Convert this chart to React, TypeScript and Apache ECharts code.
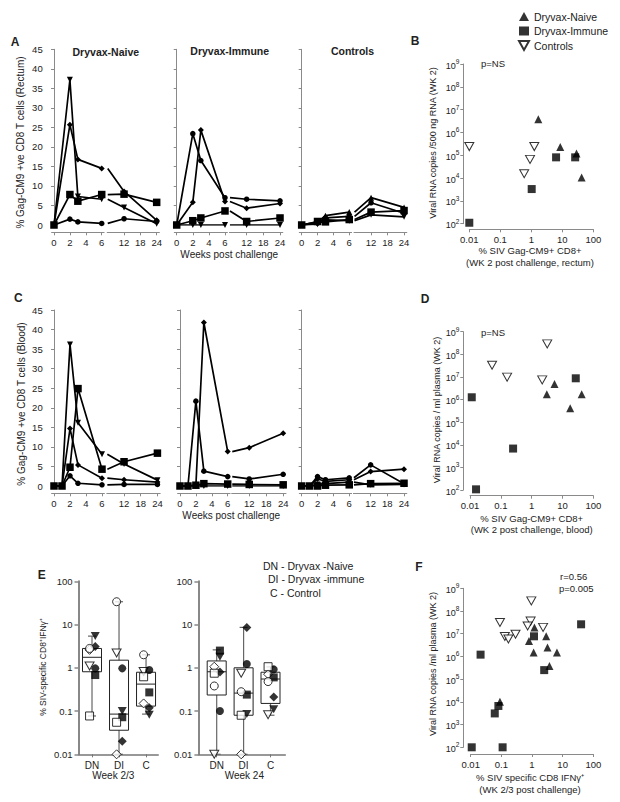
import React, { useEffect, useRef } from "react";
import * as echarts from "echarts";

const FONT = '"Liberation Sans", Arial, Helvetica, sans-serif';
const DOWN = "path://M0,0L10,0L5,9Z";
const TXT = "#222";
const AX = "#8a8a8a";

// ---------- Panels A & C : weeks post challenge ----------
const weeksRectum = [0, 2, 3, 6, 12, 24];
const weeksBlood = [0, 1, 2, 3, 6, 12, 24];

// A — rectum
const rectNaiveDown = [0, 37.2, 7.3, 6.6, 4.5, 0.3];
const rectNaiveDiamond = [0, 25.7, 16.8, 14.5, 8.6, 1.2];
const rectNaiveSquare = [0, 7.8, 6.1, 7.8, 7.9, 5.8];
const rectNaiveCircle = [0, 1.5, 0.8, 0.4, 1.6, 0.9];
const rectImmCircle = [0, 23.4, 16.5, 7.0, 6.6, 6.2];
const rectImmDiamond = [0, 5.8, 24.3, 6.0, 4.3, 5.5];
const rectImmSquare = [0, 1.1, 1.8, 3.6, 0.9, 1.8];
const rectImmDown = [0, 0, 0, 0, 0, 0];
const rectCtrlUp = [0, 0.8, 2.4, 3.3, 7.0, 4.5];
const rectCtrlCircle = [0, 0.5, 1.8, 2.2, 5.7, 3.0];
const rectCtrlSquare = [0, 0.9, 0.8, 1.4, 3.3, 3.7];
const rectCtrlDown = [0, 0.2, 1.3, 1.1, 2.6, 2.1];

// C — blood
const bloodNaiveDown = [0, 0, 36.2, 16.2, 8.1, 5.6, 1.5];
const bloodNaiveSquare = [0, 0, 4.8, 24.9, 4.3, 6.2, 8.4];
const bloodNaiveDiamond = [0, 0, 14.7, 5.4, 2.0, 1.6, 1.0];
const bloodNaiveCircle = [0, 0, 2.6, 0.7, 0.3, 0.4, 0.4];
const bloodImmDiamond = [0, 0, 0.2, 41.8, 8.8, 9.8, 13.5];
const bloodImmCircle = [0, 0, 21.7, 3.8, 2.4, 1.8, 3.0];
const bloodImmSquare = [0, 0, 0.2, 0.6, 0.5, 0.4, 0.3];
const bloodImmDown = [0, 0, 0, 0, 0, 0, 0];
const bloodCtrlDiamond = [0, 0, 1.8, 1.2, 1.6, 3.7, 4.3];
const bloodCtrlCircle = [0, 0, 2.4, 1.6, 2.1, 5.4, 0.6];
const bloodCtrlSquare = [0, 0, 0, 0.2, 0.3, 0.6, 0.7];
const bloodCtrlDown = [0, 0, 0.4, 0.6, 1.0, 0.3, 0.4];

// ---------- B, D, F scatter [x %, viral RNA] ----------
const bNaive = [[1.68, 3.8e6], [8.6, 2.3e5], [28.7, 1.2e5], [42, 1.05e4]];
const bImmune = [[0.01, 110], [1.03, 3.3e3], [6.3, 8.1e4], [26, 8.1e4]];
const bControls = [[0.01, 2.4e5], [1.25, 2.4e5], [0.91, 6.6e4], [0.59, 1.55e4]];

const dNaive = [[5.5, 4.9e6], [3.1, 1.7e6], [42, 1.7e6], [17.8, 4.1e5]];
const dImmune = [[0.0114, 1.26e6], [27, 8.7e6], [0.25, 6.8e3], [0.0157, 107]];
const dControls = [[3.2, 2.9e8], [0.052, 3.3e7], [0.16, 9.8e6], [2.2, 7.4e6]];

const fNaive = [[1.2, 1.9e7], [2.9, 7.7e6], [0.8, 4.8e6], [3.2, 2.5e6], [6.5, 1.5e6], [1.13, 1.5e6], [3.7, 3.8e5], [0.09, 1.0e4]];
const fImmune = [[40, 2.6e7], [1.16, 7.7e6], [0.021, 1.2e6], [2.5, 2.5e5], [0.08, 6.6e3], [0.061, 3.1e3], [0.0108, 100], [0.11, 100]];
const fControls = [[0.95, 2.8e8], [0.09, 3.1e7], [0.9, 3.6e7], [0.72, 2.2e7], [2.3, 1.9e7], [0.29, 9.5e6], [0.13, 7.5e6], [0.17, 5.9e6]];

// ---------- E box plots: [min, q1, median, q3, max] for DN, DI, C ----------
const eGroups = ["DN", "DI", "C"];
const boxWk23 = [[0.077, 0.81, 1.75, 2.8, 5.4], [0.01, 0.036, 0.085, 1.5, 33.7], [0.085, 0.13, 0.42, 0.79, 2.0]];
const boxWk24 = [[0.01, 0.235, 0.81, 1.44, 2.6], [0.01, 0.08, 0.26, 1.0, 8.6], [0.08, 0.15, 0.55, 0.79, 1.05]];
// individual animals, values for [DN, DI, C]
const filledDown23 = [5.4, 0.1, 0.082];
const filledDia23 = [3.1, 0.02, 0.12];
const openDia23 = [2.6, 0.01, 0.15];
const openDown23 = [1.1, 2.2, 0.82];
const filledCir23 = [0.97, 0.97, 0.89];
const filledSq23 = [0.68, 0.072, 0.27];
const openCir23 = [2.8, 33.7, 2.0];
const openSq23 = [0.077, 0.055, 0.62];
const filledDown24 = [1.8, 0.085, 0.11];
const filledDia24 = [0.8, 8.6, 0.21];
const openDia24 = [1.06, 0.01, 0.71];
const openDown24 = [0.01, 0.75, 0.082];
const filledCir24 = [0.1, 1.22, 0.92];
const filledSq24 = [2.5, 0.24, 0.6];
const openCir24 = [0.38, 0.28, 0.48];
const openSq24 = [0.75, 0.08, 1.06];

type LS = { v: number[]; sym: string; size: number };

function buildOption() {
  const grids: any[] = [];
  const xAxes: any[] = [];
  const yAxes: any[] = [];
  const series: any[] = [];

  // ---- line panels (A, C) ----
  const lineGrids = [
    { l: 51.6, w: 52.5, t: 49.3, h: 175.7, seg: 1, labels: true, yOff: 3.9 },
    { l: 107.2, w: 52.2, t: 49.3, h: 175.7, seg: 2 },
    { l: 174.3, w: 53.1, t: 49.3, h: 175.7, seg: 1, labels: false, yOff: 5 },
    { l: 229.4, w: 53.4, t: 49.3, h: 175.7, seg: 2 },
    { l: 299.3, w: 52.3, t: 49.3, h: 175.7, seg: 1, labels: false, yOff: 5 },
    { l: 354, w: 52.8, t: 49.3, h: 175.7, seg: 2 },
    { l: 51.6, w: 52.8, t: 310, h: 176, seg: 1, labels: true, yOff: 3.9 },
    { l: 106.8, w: 53.4, t: 310, h: 176, seg: 2 },
    { l: 177.6, w: 52.5, t: 310, h: 176, seg: 1, labels: false, yOff: 4.9 },
    { l: 231.7, w: 54.3, t: 310, h: 176, seg: 2 },
    { l: 299.3, w: 52.3, t: 310, h: 176, seg: 1, labels: false, yOff: 5 },
    { l: 353.4, w: 53.4, t: 310, h: 176, seg: 2 },
  ];
  lineGrids.forEach((g, i) => {
    grids.push({ left: g.l, top: g.t, width: g.w, height: g.h, containLabel: false, outerBoundsMode: "none" });
    const ticks = g.seg === 1 ? [0, 2, 4, 6] : [12, 18, 24];
    xAxes.push({
      gridIndex: i, type: "value",
      min: g.seg === 1 ? -0.3 : 5.8, max: g.seg === 1 ? 6.3 : 25,
      offset: 7.3,
      splitLine: { show: false },
      axisLine: { show: true, onZero: false, lineStyle: { color: AX, width: 1 } },
      axisTick: { show: true, length: 3, customValues: ticks, lineStyle: { color: AX } },
      axisLabel: { customValues: ticks, fontSize: 9.5, color: TXT, fontFamily: FONT, margin: 5 },
    });
    yAxes.push({
      gridIndex: i, type: "value", min: 0, max: 45, interval: 5,
      show: g.seg === 1, offset: g.yOff || 0,
      splitLine: { show: false },
      axisLine: { show: true, lineStyle: { color: AX, width: 1 } },
      axisTick: { show: true, length: 3, lineStyle: { color: AX } },
      axisLabel: { show: !!g.labels, fontSize: 9.5, color: TXT, fontFamily: FONT, margin: 5 },
    });
  });

  const lineSeries = (weeks: number[], list: LS[], g1: number, g2: number) => {
    const i6 = weeks.indexOf(6);
    list.forEach((s) => {
      const d1 = weeks.slice(0, i6 + 1).map((w, i) => [w, s.v[i]]);
      const d2 = weeks.slice(i6).map((w, i) =>
        i === 0 ? { value: [w, s.v[i6 + i]], symbol: "none" } : [w, s.v[i6 + i]]
      );
      [[g1, d1], [g2, d2]].forEach(([g, d]: any) => {
        series.push({
          type: "line", xAxisIndex: g, yAxisIndex: g, data: d,
          symbol: s.sym, symbolSize: s.size, showAllSymbol: true,
          lineStyle: { color: "#000", width: 1.7 },
          itemStyle: { color: "#000" },
          z: 3,
        });
      });
    });
  };
  const sq = (v: number[]): LS => ({ v, sym: "rect", size: 7.5 });
  const ci = (v: number[]): LS => ({ v, sym: "circle", size: 5.5 });
  const dn = (v: number[]): LS => ({ v, sym: DOWN, size: 6 });
  const di = (v: number[]): LS => ({ v, sym: "diamond", size: 6 });
  const up = (v: number[]): LS => ({ v, sym: "triangle", size: 6 });

  lineSeries(weeksRectum, [dn(rectNaiveDown), di(rectNaiveDiamond), sq(rectNaiveSquare), ci(rectNaiveCircle)], 0, 1);
  lineSeries(weeksRectum, [ci(rectImmCircle), di(rectImmDiamond), sq(rectImmSquare), dn(rectImmDown)], 2, 3);
  lineSeries(weeksRectum, [up(rectCtrlUp), ci(rectCtrlCircle), sq(rectCtrlSquare), dn(rectCtrlDown)], 4, 5);
  lineSeries(weeksBlood, [dn(bloodNaiveDown), sq(bloodNaiveSquare), di(bloodNaiveDiamond), ci(bloodNaiveCircle)], 6, 7);
  lineSeries(weeksBlood, [di(bloodImmDiamond), ci(bloodImmCircle), sq(bloodImmSquare), dn(bloodImmDown)], 8, 9);
  lineSeries(weeksBlood, [di(bloodCtrlDiamond), ci(bloodCtrlCircle), sq(bloodCtrlSquare), dn(bloodCtrlDown)], 10, 11);

  // ---- log scatter panels (B, D, F) ----
  const exp = (v: number) => Math.round(Math.log10(v));
  const decLabel = (v: number) => {
    const e = exp(v);
    return e >= 0 ? String(Math.pow(10, e)) : (e === -1 ? "0.1" : "0.01");
  };
  const scatterGrids = [
    { l: 469.3, t: 64, w: 124, h: 159.7, yOff: 6, xOff: 5.6, data: [bNaive, bImmune, bControls] },
    { l: 470, t: 331.7, w: 123.3, h: 158.3, yOff: 6.7, xOff: 5.7, data: [dNaive, dImmune, dControls] },
    { l: 470.7, t: 588.3, w: 122.6, h: 159, yOff: 7.4, xOff: 6.7, data: [fNaive, fImmune, fControls] },
  ];
  scatterGrids.forEach((g) => {
    const gi = grids.length;
    grids.push({ left: g.l, top: g.t, width: g.w, height: g.h, containLabel: false, outerBoundsMode: "none" });
    xAxes.push({
      gridIndex: gi, type: "log", logBase: 10, min: 0.01, max: 100, offset: g.xOff,
      splitLine: { show: false },
      axisLine: { show: true, onZero: false, lineStyle: { color: AX } },
      axisTick: { show: true, length: 3, lineStyle: { color: AX } },
      axisLabel: { fontSize: 9.5, color: TXT, fontFamily: FONT, margin: 5, formatter: decLabel },
    });
    yAxes.push({
      gridIndex: gi, type: "log", logBase: 10, min: 100, max: 1e9, offset: g.yOff,
      splitLine: { show: false },
      axisLine: { show: true, onZero: false, lineStyle: { color: AX } },
      axisTick: { show: true, length: 3, lineStyle: { color: AX } },
      axisLabel: {
        margin: 4,
        formatter: (v: number) => `{b|10}{s|${exp(v)}}`,
        rich: {
          b: { fontSize: 9, fontFamily: FONT, color: TXT, lineHeight: 12, verticalAlign: "bottom" },
          s: { fontSize: 6.5, fontFamily: FONT, color: TXT, lineHeight: 12, verticalAlign: "top" },
        },
      },
    });
    const [naive, immune, ctrl] = g.data;
    series.push(
      { type: "scatter", name: "Dryvax-Naive", xAxisIndex: gi, yAxisIndex: gi, data: naive, symbol: "triangle", symbolSize: 8, itemStyle: { color: "#000" } },
      { type: "scatter", name: "Dryvax-Immune", xAxisIndex: gi, yAxisIndex: gi, data: immune, symbol: "rect", symbolSize: 8, itemStyle: { color: "#000" } },
      { type: "scatter", name: "Controls", xAxisIndex: gi, yAxisIndex: gi, data: ctrl, symbol: DOWN, symbolSize: [9, 8], itemStyle: { color: "#fff", borderColor: "#000", borderWidth: 1 } },
    );
  });

  // ---- E box plots ----
  const eGrids = [
    { l: 78.5, w: 79.7, min: 0.5, max: 3.45, boxes: boxWk23,
      pts: [filledDown23, filledDia23, openDia23, openDown23, filledCir23, filledSq23, openCir23, openSq23] },
    { l: 198.4, w: 86.9, min: 0.32, max: 3.55, boxes: boxWk24,
      pts: [filledDown24, filledDia24, openDia24, openDown24, filledCir24, filledSq24, openCir24, openSq24] },
  ];
  const ptStyles = [
    { sym: DOWN, size: [9, 8], open: false },
    { sym: "diamond", size: 9, open: false },
    { sym: "diamond", size: 9, open: true },
    { sym: DOWN, size: [9, 8], open: true },
    { sym: "circle", size: 8, open: false },
    { sym: "rect", size: 8, open: false },
    { sym: "circle", size: 8, open: true },
    { sym: "rect", size: 8, open: true },
  ];
  eGrids.forEach((g) => {
    const gi = grids.length;
    grids.push({ left: g.l, top: 581.3, width: g.w, height: 173, containLabel: false, outerBoundsMode: "none" });
    xAxes.push({
      gridIndex: gi, type: "value", min: g.min, max: g.max,
      splitLine: { show: false },
      axisLine: { show: true, onZero: false, lineStyle: { color: "#777", width: 1.6 } },
      axisTick: { show: true, length: 3, customValues: [1, 2, 3], lineStyle: { color: "#777" } },
      axisLabel: { customValues: [1, 2, 3], fontSize: 10, color: TXT, fontFamily: FONT, margin: 6,
        formatter: (v: number) => eGroups[Math.round(v) - 1] || "" },
    });
    yAxes.push({
      gridIndex: gi, type: "log", logBase: 10, min: 0.01, max: 100,
      splitLine: { show: false },
      axisLine: { show: true, onZero: false, lineStyle: { color: "#888", width: 2 } },
      axisTick: { show: true, length: 4, lineStyle: { color: "#888", width: 1.5 } },
      axisLabel: { fontSize: 9.5, color: TXT, fontFamily: FONT, margin: 6, formatter: decLabel },
    });
    series.push({
      type: "custom", xAxisIndex: gi, yAxisIndex: gi, z: 2,
      data: g.boxes.map((b, i) => [i + 1, ...b]),
      encode: { x: 0, y: [1, 2, 3, 4, 5] },
      renderItem: (params: any, api: any) => {
        const x = api.value(0);
        const pMin = api.coord([x, api.value(1)]);
        const pQ1 = api.coord([x, api.value(2)]);
        const pMed = api.coord([x, api.value(3)]);
        const pQ3 = api.coord([x, api.value(4)]);
        const pMax = api.coord([x, api.value(5)]);
        const cx = pMed[0];
        const hw = 9.5;
        const wStyle = { stroke: "#666", lineWidth: 1.2 };
        const bStyle = { stroke: "#222", lineWidth: 1, fill: "none" };
        return {
          type: "group",
          children: [
            { type: "line", shape: { x1: cx, y1: pMax[1], x2: cx, y2: pQ3[1] }, style: wStyle },
            { type: "line", shape: { x1: cx, y1: pQ1[1], x2: cx, y2: pMin[1] }, style: wStyle },
            { type: "line", shape: { x1: cx - 4, y1: pMax[1], x2: cx + 4, y2: pMax[1] }, style: wStyle },
            { type: "line", shape: { x1: cx - 4, y1: pMin[1], x2: cx + 4, y2: pMin[1] }, style: wStyle },
            { type: "rect", shape: { x: cx - hw, y: pQ3[1], width: hw * 2, height: pQ1[1] - pQ3[1] }, style: bStyle },
            { type: "line", shape: { x1: cx - hw, y1: pMed[1], x2: cx + hw, y2: pMed[1] }, style: { stroke: "#222", lineWidth: 1 } },
          ],
        };
      },
    });
    g.pts.forEach((vals, k) => {
      const st = ptStyles[k];
      const off = st.open ? -0.09 : 0.12;
      series.push({
        type: "scatter", xAxisIndex: gi, yAxisIndex: gi, z: 4,
        data: vals.map((v, i) => [i + 1 + off, v]),
        symbol: st.sym, symbolSize: st.size,
        itemStyle: st.open ? { color: "#fff", borderColor: "#000", borderWidth: 1 } : { color: "#000" },
      });
    });
  });

  // ---- texts ----
  const T = (text: string, x: number, y: number, o: any = {}) => ({
    type: "text", x, y, rotation: o.rot || 0, z: 10,
    style: {
      text, fontSize: o.size || 10, fontFamily: FONT, fontWeight: o.bold ? "bold" : "normal",
      fill: TXT, align: o.align || "center", verticalAlign: "middle",
    },
  });
  const R = Math.PI / 2;
  const elements = [
    T("A", 15, 41.5, { bold: true, size: 12 }),
    T("B", 415, 41, { bold: true, size: 12 }),
    T("C", 18.3, 298.3, { bold: true, size: 12 }),
    T("D", 425, 299.3, { bold: true, size: 12 }),
    T("E", 41.7, 575, { bold: true, size: 12 }),
    T("F", 419, 567.3, { bold: true, size: 12 }),
    T("Dryvax-Naive", 105.8, 51.7, { bold: true, size: 10.5 }),
    T("Dryvax-Immune", 229.7, 51, { bold: true, size: 10.5 }),
    T("Controls", 352.5, 51, { bold: true, size: 10.5 }),
    T("% Gag-CM9 +ve CD8 T cells (Rectum)", 20, 142.5, { rot: R, size: 10 }),
    T("% Gag-CM9 +ve CD8 T cells (Blood)", 21.7, 404, { rot: R, size: 10 }),
    T("Weeks post challenge", 229.2, 254.3, { size: 10 }),
    T("Weeks post challenge", 231.2, 515.7, { size: 10 }),
    T("Viral RNA copies /500 ng RNA (WK 2)", 433.3, 143, { rot: R, size: 9 }),
    T("% SIV Gag-CM9+ CD8+", 530, 250, { size: 9.5 }),
    T("(WK 2 post challenge, rectum)", 530, 262.3, { size: 9.5 }),
    T("p=NS", 493, 63.3, { size: 9.5 }),
    T("Viral RNA copies / ml plasma (WK 2)", 436.7, 410, { rot: R, size: 9 }),
    T("% SIV Gag-CM9+ CD8+", 531.7, 518.7, { size: 9.5 }),
    T("(WK 2 post challenge, blood)", 531.7, 529.3, { size: 9.5 }),
    T("p=NS", 493, 332.7, { size: 9.5 }),
    T("Viral RNA copies /ml plasma (WK 2)", 433.3, 664, { rot: R, size: 9 }),
    T("% SIV specific CD8 IFNγ⁺", 530, 777.3, { size: 9.5 }),
    T("(WK 2/3 post challenge)", 530, 789.3, { size: 9.5 }),
    T("r=0.56", 560, 576, { size: 9.5, align: "left" }),
    T("p=0.005", 559, 588.3, { size: 9.5, align: "left" }),
    T("% SIV-specific CD8⁺IFNγ⁺", 43.3, 667, { rot: R, size: 8.5 }),
    T("Week 2/3", 113.3, 775.7, { size: 10 }),
    T("Week 24", 244.3, 775.7, { size: 10 }),
    T("DN - Dryvax -Naive", 263, 566, { size: 10.5, align: "left" }),
    T("DI - Dryvax -immune", 268, 579.3, { size: 10.5, align: "left" }),
    T("C - Control", 270, 592.7, { size: 10.5, align: "left" }),
  ];

  return {
    animation: false,
    backgroundColor: "#fff",
    textStyle: { fontFamily: FONT },
    grid: grids,
    xAxis: xAxes,
    yAxis: yAxes,
    series,
    legend: {
      data: [
        { name: "Dryvax-Naive", icon: "triangle" },
        { name: "Dryvax-Immune", icon: "rect" },
        { name: "Controls", icon: DOWN },
      ],
      orient: "vertical", left: 518, top: 11, padding: 0,
      itemWidth: 10, itemHeight: 9, itemGap: 3.5, selectedMode: false,
      textStyle: { fontSize: 10.5, color: TXT, fontFamily: FONT },
    },
    graphic: { elements },
  };
}

export default function App() {
  const ref = useRef<HTMLDivElement>(null);
  useEffect(() => {
    const chart = echarts.init(ref.current!, null, { renderer: "svg" });
    chart.setOption(buildOption() as any);
    return () => chart.dispose();
  }, []);
  return (
    <div
      ref={ref}
      style={{ position: "fixed", left: 0, top: 0, width: 620, height: 802, background: "#fff" }}
    />
  );
}
